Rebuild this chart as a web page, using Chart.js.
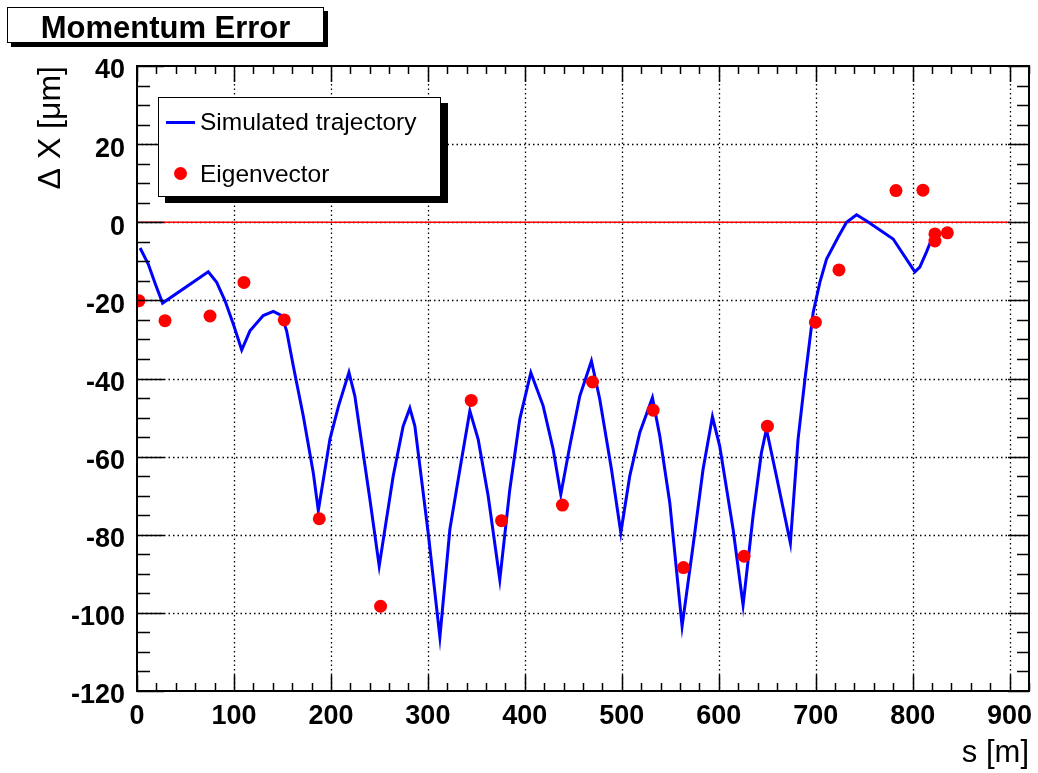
<!DOCTYPE html>
<html>
<head>
<meta charset="utf-8">
<title>Momentum Error</title>
<script src="https://cdn.jsdelivr.net/npm/chart.js@4.4.1/dist/chart.umd.min.js"></script>
<style>
  html, body { margin: 0; padding: 0; background: #fff; }
  #wrap { position: relative; width: 1038px; height: 773px; font-family: "Liberation Sans", Arial, sans-serif; }
  #plot { position: absolute; left: 0; top: 0; }
  .title-box {
    position: absolute; left: 7px; top: 7px; width: 315px; height: 34px;
    border: 1.5px solid #000; box-shadow: 4px 4px 0 #000; background: #fff;
    font-weight: bold; font-size: 31px; line-height: 40px; text-align: center; color: #000;
  }
  .legend {
    position: absolute; left: 158px; top: 97px; width: 281px; height: 98px;
    border: 1.5px solid #000; box-shadow: 7px 6px 0 #000; background: #fff;
    font-size: 24.5px; color: #000;
  }
  .legend .row { position: absolute; left: 0; height: 30px; width: 100%; }
  .legend .txt { position: absolute; left: 41px; top: 0; line-height: 30px; white-space: nowrap; }
  .legend .line { position: absolute; left: 7px; top: 14px; width: 29px; height: 3px; background: #0000ff; }
  .legend .dot { position: absolute; left: 15px; top: 8px; width: 13px; height: 13px; border-radius: 50%; background: #ff0000; }
</style>
</head>
<body>
<div id="wrap">
  <canvas id="plot" width="1038" height="773"></canvas>
  <div class="title-box">Momentum Error</div>
  <div class="legend" id="legend"></div>
</div>
<script>
// simulated trajectory (s in m, delta x in um)
const trajS = [3.2, 11.6, 18.9, 26.4, 73.5, 82.2, 90.8, 99.4, 108, 116.5, 130.2, 140.6, 149.2, 154.3,
  161.2, 171.5, 181.8, 187, 199, 207.9, 218.6, 224.7, 240.2, 249.8, 264.2, 274.5, 281.4, 286.6,
  300.3, 312.4, 322.7, 333, 343.3, 351.9, 362.2, 374.2, 384.5, 394.8, 406.2, 418.9, 429.2, 437.1,
  446.4, 456.7, 468.7, 477.3, 489.4, 499, 508.2, 518.6, 531.6, 539.2, 549.5, 562.2, 573.5, 583.8,
  593.5, 601, 614.8, 625.1, 635.4, 644, 649.2, 659.5, 673.9, 681.8, 688.9, 697.4, 704.3, 711.2,
  723.2, 731.8, 742.1, 752.2, 779.9, 802.3, 807.4, 814.1, 821.1];
const trajX = [-6.6, -10.7, -15.8, -20.7, -12.7, -15.4, -20.1, -26.1, -32.7, -27.8, -23.9, -22.8, -23.9, -27.8,
  -36.8, -49.6, -64.1, -73.8, -55.5, -47, -38.4, -44.5, -70.9, -88, -65, -52.2, -47.6, -52.2,
  -79.5, -106.2, -78.6, -63.3, -48.3, -55.6, -70.1, -91.5, -68.4, -50.4, -38.5, -47, -58.1, -69.7,
  -57.3, -44.5, -35.5, -45.3, -63.3, -79.5, -65, -53.8, -44.9, -54.7, -71.8, -103.4, -82.9, -63.3,
  -49.8, -57.3, -78.6, -98, -75.2, -59, -53, -65, -82.1, -55.6, -40.2, -23.1, -15.4, -9.4,
  -3.8, 0, 1.9, 0.4, -4.3, -12.7, -11.5, -7.7, -3.4];

// eigenvector points
const eigS = [2, 28.9, 75.3, 110.3, 151.9, 188, 251.2, 344.7, 376, 438.8, 469.8,
  532.3, 563.6, 626.1, 650.2, 699.7, 724, 782.8, 810.6, 823, 823, 835.8];
const eigX = [-20.1, -25.2, -24, -15.4, -25, -75.9, -98.3, -45.6, -76.4, -72.4, -40.9,
  -48.1, -88.4, -85.5, -52.2, -25.6, -12.2, 8.1, 8.2, -3.0, -4.8, -2.7];

// reference line at zero
const zeroS = [0, 900];
const zeroX = [0, 0];

const xTicks = [0, 100, 200, 300, 400, 500, 600, 700, 800, 900];
const yTicks = [-120, -100, -80, -60, -40, -20, 0, 20, 40];

const seriesNames = ['Simulated trajectory', 'Eigenvector'];

const toXY = (xs, ys) => xs.map((v, i) => ({ x: v, y: ys[i] }));

const FONT = '"Liberation Sans", Arial, Helvetica, sans-serif';

// ROOT-like frame: dotted grid, inward ticks, solid border
const rootFrame = {
  id: 'rootFrame',
  beforeDatasetsDraw(chart) {
    const { ctx, chartArea: a, scales: { x, y } } = chart;
    ctx.save();
    ctx.strokeStyle = '#000';
    ctx.lineWidth = 1.3;
    ctx.setLineDash([1.5, 3]);
    xTicks.forEach(v => {
      if (v <= x.min || v >= x.max) return;
      const px = Math.round(x.getPixelForValue(v)) + 0.5;
      ctx.beginPath(); ctx.moveTo(px, a.top); ctx.lineTo(px, a.bottom); ctx.stroke();
    });
    yTicks.forEach(v => {
      if (v <= y.min || v >= y.max) return;
      const py = Math.round(y.getPixelForValue(v)) + 0.5;
      ctx.beginPath(); ctx.moveTo(a.left, py); ctx.lineTo(a.right, py); ctx.stroke();
    });
    ctx.restore();
  },
  afterDatasetsDraw(chart) {
    const { ctx, chartArea: a, scales: { x, y } } = chart;
    ctx.save();
    ctx.strokeStyle = '#000';
    ctx.lineWidth = 1.5;
    ctx.beginPath();
    for (let v = 0; v <= 920; v += 20) {
      const px = Math.round(x.getPixelForValue(v)) + 0.5;
      const len = v % 100 === 0 ? 16 : 8;
      ctx.moveTo(px, a.bottom); ctx.lineTo(px, a.bottom - len);
      ctx.moveTo(px, a.top); ctx.lineTo(px, a.top + len);
    }
    for (let v = -120; v <= 40; v += 5) {
      const py = Math.round(y.getPixelForValue(v)) + 0.5;
      const major = v % 20 === 0;
      ctx.moveTo(a.left, py); ctx.lineTo(a.left + (major ? 27 : 13), py);
      ctx.moveTo(a.right, py); ctx.lineTo(a.right - (major ? 21 : 12), py);
    }
    ctx.stroke();
    ctx.lineWidth = 2;
    ctx.strokeRect(a.left, a.top, a.right - a.left, a.bottom - a.top);
    ctx.restore();
  }
};

const ctx = document.getElementById('plot').getContext('2d');
new Chart(ctx, {
  type: 'line',
  data: {
    datasets: [
      {
        type: 'scatter',
        label: seriesNames[1],
        data: toXY(eigS, eigX),
        backgroundColor: '#ff0000',
        borderWidth: 0,
        pointRadius: 6.5
      },
      {
        label: seriesNames[0],
        data: toXY(trajS, trajX),
        borderColor: '#0000ff',
        borderWidth: 3,
        pointRadius: 0,
        tension: 0,
        fill: false
      },
      {
        label: 'zero',
        data: toXY(zeroS, zeroX),
        borderColor: '#ff0000',
        borderWidth: 1.5,
        pointRadius: 0,
        fill: false
      }
    ]
  },
  options: {
    responsive: false,
    animation: false,
    layout: { padding: { top: 66, right: 9, bottom: 0, left: 0 } },
    scales: {
      x: {
        type: 'linear',
        min: 0,
        max: 920,
        grid: { display: false, drawTicks: false },
        border: { display: false },
        afterBuildTicks: s => { s.ticks = xTicks.map(v => ({ value: v })); },
        afterFit: s => { s.height = 82; s.paddingLeft = 0; s.paddingRight = 0; },
        ticks: {
          padding: 9,
          color: '#000',
          maxRotation: 0,
          autoSkip: false,
          font: { family: FONT, size: 27, weight: 'bold' },
          callback: v => String(v)
        },
        title: {
          display: true,
          text: 's [m]',
          align: 'end',
          color: '#000',
          padding: { top: 0, bottom: 1 },
          font: { family: FONT, size: 31 }
        }
      },
      y: {
        min: -120,
        max: 40,
        grid: { display: false, drawTicks: false },
        border: { display: false },
        afterBuildTicks: s => { s.ticks = yTicks.map(v => ({ value: v })); },
        afterFit: s => { s.width = 137; s.paddingTop = 0; s.paddingBottom = 0; },
        ticks: {
          padding: 12,
          labelOffset: 5,
          color: '#000',
          autoSkip: false,
          font: { family: FONT, size: 27, weight: 'bold' },
          callback: v => String(v)
        },
        title: {
          display: true,
          text: 'Δ X [μm]',
          align: 'end',
          color: '#000',
          padding: { top: 32, bottom: 0 },
          font: { family: FONT, size: 32 }
        }
      }
    },
    plugins: {
      legend: { display: false },
      tooltip: { enabled: false }
    }
  },
  plugins: [rootFrame]
});

// legend box in ROOT style
const legend = document.getElementById('legend');
legend.innerHTML =
  '<div class="row" style="top:9px"><div class="line"></div><div class="txt">' + seriesNames[0] + '</div></div>' +
  '<div class="row" style="top:61px"><div class="dot"></div><div class="txt">' + seriesNames[1] + '</div></div>';
</script>
</body>
</html>
